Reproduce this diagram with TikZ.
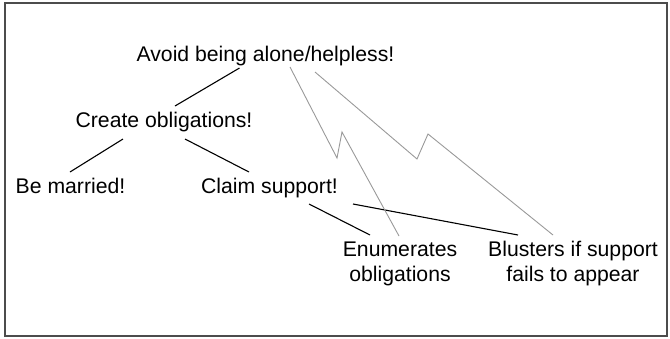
\documentclass[tikz,border=0pt]{standalone}
\usepackage{fontspec}
\setmainfont{Liberation Sans}
\usetikzlibrary{calc}
\begin{document}
\begin{tikzpicture}[x=1pt,y=-1pt,
  lbl/.style={inner sep=0pt,anchor=base,align=center,font=\fontsize{21.2}{25}\selectfont},
  tree/.style={draw=black,line width=1.1pt},
  zig/.style={draw=black!40,line width=0.9pt,line join=miter}]
\useasboundingbox (0,0) rectangle (670,338);
\draw[draw=black!70,line width=1.2pt] (5,3) rectangle (667,336);
\node[lbl] (avoid) at (265.5,61) {Avoid being alone/helpless!};
\node[lbl] (create) at (164,127) {Create obligations!};
\node[lbl] (married) at (70.5,193) {Be married!};
\node[lbl] (claim) at (269.5,193) {Claim support!};
\node[lbl] (enum) at (400,281) {Enumerates\\obligations};
\node[lbl] (bluster) at (573,281) {Blusters if support\\fails to appear};
% tree lines
\draw[tree] ($(avoid.base)+(-26,7)$) -- ($(create.base)+(11,-21)$);
\draw[tree] ($(create.base)+(-41,12)$) -- ($(married.base)+(-0.5,-21)$);
\draw[tree] ($(create.base)+(21,12)$) -- ($(claim.base)+(-20.5,-21)$);
\draw[tree] ($(claim.base)+(39.5,11)$) -- ($(enum.base)+(-30,-46)$);
\draw[tree] ($(claim.base)+(83.5,11)$) -- ($(bluster.base)+(-55,-46)$);
% zigzag links
\draw[zig] ($(avoid.base)+(24.5,6)$) -- (337,158) -- (342,132) -- ($(enum.base)+(-1,-45)$);
\draw[zig] ($(avoid.base)+(49.5,11)$) -- (417,159) -- (428,134) -- ($(bluster.base)+(-20,-46)$);
\end{tikzpicture}
\end{document}
